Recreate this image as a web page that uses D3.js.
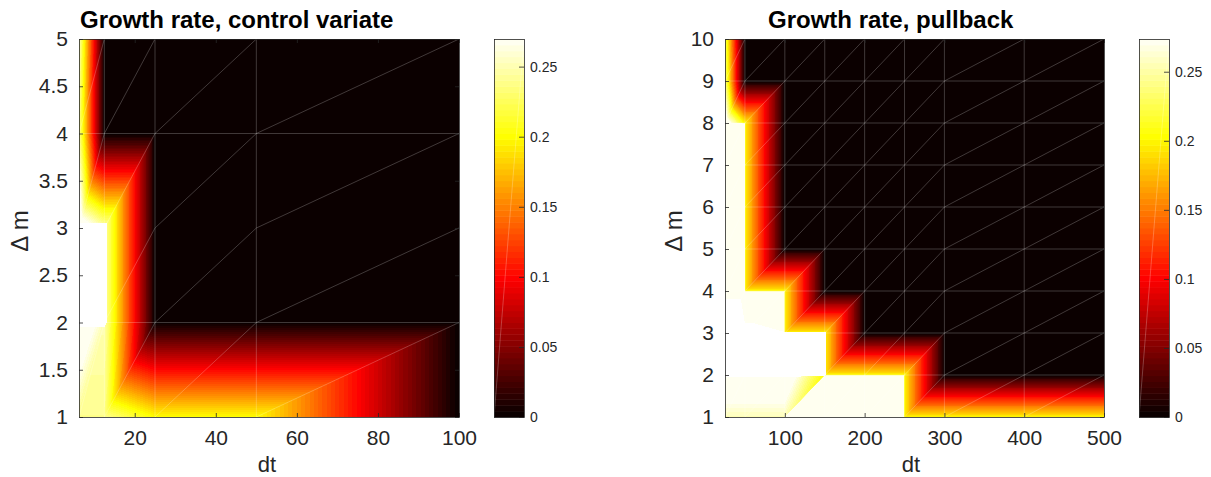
<!DOCTYPE html>
<html>
<head>
<meta charset="utf-8">
<script src="https://cdn.jsdelivr.net/npm/d3@7"></script>
<style>
  body { margin: 0; background: #fff; }
  svg text { font-family: "Liberation Sans", Arial, Helvetica, sans-serif; fill: #262626; }
</style>
</head>
<body>
<div id="chart"></div>
<script>
// ---------- left panel: control variate ----------
const cvTitle = "Growth rate, control variate";
const cvDt = [6.25, 12.5, 25, 50, 100];
const cvDm = [1, 2, 3, 4, 5];
// growth rate at the grid nodes: one row per Δm (bottom first), one column per dt
const cvRate = [
  [0.24, 0.24, 0.2, 0.2, 0],
  [0.3, 0.25, 0, 0, 0],
  [0.3, 0.25, 0, 0, 0],
  [0.24, 0, 0, 0, 0],
  [0.25, 0, 0, 0, 0],
];
// surface height relative to the z limit; above 1 the surface is cut away (blank)
const cvCut = [
  [0, 0, 0, 0, 0],
  [1.05, 1.05, 0, 0, 0],
  [1.05, 1.05, 0, 0, 0],
  [0, 0, 0, 0, 0],
  [0, 0, 0, 0, 0],
];
const cvHiddenRows = [3]; // no seam drawn along this Δm
const cvXTicks = [20, 40, 60, 80, 100];
const cvYTicks = [1, 1.5, 2, 2.5, 3, 3.5, 4, 4.5, 5];
const cvCmax = 0.2697;

// ---------- right panel: pullback ----------
const pbTitle = "Growth rate, pullback";
const pbDt = [25, 50, 100, 150, 200, 250, 300, 400, 500];
const pbDm = [1, 2, 3, 4, 5, 6, 7, 8, 9, 10];
const pbRate = [
  [0.255, 0.255, 0.255, 5, 5, 0.2, 0.2, 0.2, 0.2],
  [0.3, 0.3, 0.3, 0.2, 0.2, 0.2, 0, 0, 0],
  [5, 5, 0.2, 0.2, 0, 0, 0, 0, 0],
  [5, 0.2, 0.2, 0, 0, 0, 0, 0, 0],
  [5, 0.2, 0, 0, 0, 0, 0, 0, 0],
  [5, 0.2, 0, 0, 0, 0, 0, 0, 0],
  [5, 0.2, 0, 0, 0, 0, 0, 0, 0],
  [0.3, 0.2, 0, 0, 0, 0, 0, 0, 0],
  [0.24, 0, 0, 0, 0, 0, 0, 0, 0],
  [0.23, 0, 0, 0, 0, 0, 0, 0, 0],
];
const pbCut = [
  [0, 0, 0, 0, 0, 0, 0, 0, 0],
  [1.05, 1.05, 1.05, 1.02, 0, 0, 0, 0, 0],
  [5, 1.3, 1.02, 1.02, 0, 0, 0, 0, 0],
  [0, 0, 0, 0, 0, 0, 0, 0, 0],
  [0, 0, 0, 0, 0, 0, 0, 0, 0],
  [0, 0, 0, 0, 0, 0, 0, 0, 0],
  [0, 0, 0, 0, 0, 0, 0, 0, 0],
  [0, 0, 0, 0, 0, 0, 0, 0, 0],
  [0, 0, 0, 0, 0, 0, 0, 0, 0],
  [0, 0, 0, 0, 0, 0, 0, 0, 0],
];
const pbHiddenRows = [];
const pbXTicks = [100, 200, 300, 400, 500];
const pbYTicks = [1, 2, 3, 4, 5, 6, 7, 8, 9, 10];
const pbCmax = 0.2737;

const cbTicks = [0, 0.05, 0.1, 0.15, 0.2, 0.25];

const W = 1211, H = 477;
const NCOL = 64;

// matlab hot(64), row k = 1..64
function hot(k) {
  const r = k <= 24 ? k / 24 : 1;
  const g = k <= 24 ? 0 : k <= 48 ? (k - 24) / 24 : 1;
  const b = k <= 48 ? 0 : (k - 48) / 17;
  return [Math.round(r * 255), Math.round(g * 255), Math.round(b * 255)];
}
const hotRows = d3.range(1, NCOL + 1).map(hot);

function colorIndex(v, cmax) {
  return Math.max(1, Math.min(NCOL, Math.floor((v / cmax) * NCOL) + 1));
}

// linear interpolation on the triangle split (lower-left to upper-right diagonal)
function nodeValue(grid, i, j, s, t) {
  const v00 = grid[j][i], v10 = grid[j][i + 1], v01 = grid[j + 1][i], v11 = grid[j + 1][i + 1];
  return t <= s
    ? v00 * (1 - s) + v10 * (s - t) + v11 * t
    : v00 * (1 - t) + v01 * (t - s) + v11 * s;
}

const svg = d3.select("#chart").append("svg").attr("width", W).attr("height", H);

function drawPanel(p) {
  const x = d3.scaleLinear().domain([p.dt[0], p.dt[p.dt.length - 1]]).range([p.left, p.left + p.width]);
  const y = d3.scaleLinear().domain([p.dm[0], p.dm[p.dm.length - 1]]).range([p.top + p.height, p.top]);

  // surface raster
  const canvas = document.createElement("canvas");
  canvas.width = p.width;
  canvas.height = p.height;
  const ctx = canvas.getContext("2d");
  const img = ctx.createImageData(p.width, p.height);
  const nx = p.dt.length, ny = p.dm.length;
  for (let py = 0; py < p.height; py++) {
    const dm = y.invert(p.top + py + 0.5);
    const j = Math.max(0, Math.min(ny - 2, d3.bisectRight(p.dm, dm) - 1));
    const t = (dm - p.dm[j]) / (p.dm[j + 1] - p.dm[j]);
    for (let px = 0; px < p.width; px++) {
      const dt = x.invert(p.left + px + 0.5);
      const i = Math.max(0, Math.min(nx - 2, d3.bisectRight(p.dt, dt) - 1));
      const s = (dt - p.dt[i]) / (p.dt[i + 1] - p.dt[i]);
      const o = (py * p.width + px) * 4;
      let c;
      if (nodeValue(p.cut, i, j, s, t) > 1) c = [255, 255, 255];
      else c = hotRows[colorIndex(nodeValue(p.rate, i, j, s, t), p.cmax) - 1];
      img.data[o] = c[0];
      img.data[o + 1] = c[1];
      img.data[o + 2] = c[2];
      img.data[o + 3] = 255;
    }
  }
  ctx.putImageData(img, 0, 0);

  const g = svg.append("g");
  g.append("image")
    .attr("x", p.left)
    .attr("y", p.top)
    .attr("width", p.width)
    .attr("height", p.height)
    .attr("preserveAspectRatio", "none")
    .style("image-rendering", "pixelated")
    .attr("href", canvas.toDataURL());

  // faint seams along the triangle edges
  const seams = g.append("g")
    .attr("stroke", "#fff")
    .attr("stroke-opacity", 0.28)
    .attr("stroke-width", 0.8)
    .attr("fill", "none");
  p.dt.slice(1, -1).forEach((d) => {
    seams.append("line").attr("x1", x(d)).attr("x2", x(d)).attr("y1", y.range()[0]).attr("y2", y.range()[1]);
  });
  p.dm.slice(1, -1).filter((d) => !p.hidden.includes(d)).forEach((d) => {
    seams.append("line").attr("y1", y(d)).attr("y2", y(d)).attr("x1", x.range()[0]).attr("x2", x.range()[1]);
  });
  for (let j = 0; j < ny - 1; j++) {
    for (let i = 0; i < nx - 1; i++) {
      seams.append("line")
        .attr("x1", x(p.dt[i])).attr("y1", y(p.dm[j]))
        .attr("x2", x(p.dt[i + 1])).attr("y2", y(p.dm[j + 1]));
    }
  }

  // axes (box with inward ticks)
  const fmt = (d) => String(d);
  const axes = [
    [d3.axisBottom(x).tickValues(p.xTicks).tickFormat(fmt).tickPadding(13), `translate(0,${p.top + p.height})`],
    [d3.axisTop(x).tickValues(p.xTicks).tickFormat(""), `translate(0,${p.top})`],
    [d3.axisLeft(y).tickValues(p.yTicks).tickFormat(fmt).tickPadding(11), `translate(${p.left},0)`],
    [d3.axisRight(y).tickValues(p.yTicks).tickFormat(""), `translate(${p.left + p.width},0)`],
  ];
  axes.forEach(([ax, tr]) => {
    const a = g.append("g").attr("transform", tr).call(ax.tickSizeInner(-4).tickSizeOuter(0));
    a.attr("font-family", null).attr("font-size", null);
    a.selectAll("path, line").attr("stroke", "#262626").attr("stroke-width", 0.8);
    a.selectAll("text").style("font-size", "21px");
  });

  // colorbar
  const cb = d3.scaleLinear().domain([0, p.cmax]).range([p.top + p.height, p.top]);
  g.append("g")
    .selectAll("rect")
    .data(hotRows)
    .join("rect")
    .attr("x", p.cbLeft)
    .attr("width", p.cbWidth)
    .attr("y", (d, k) => cb(((k + 1) / NCOL) * p.cmax))
    .attr("height", (d, k) => cb((k / NCOL) * p.cmax) - cb(((k + 1) / NCOL) * p.cmax) + 0.5)
    .attr("fill", (d) => `rgb(${d[0]},${d[1]},${d[2]})`);
  g.append("line")
    .attr("x1", p.cbLeft).attr("y1", cb(0))
    .attr("x2", p.cbLeft + p.cbWidth).attr("y2", cb(p.cmax))
    .attr("stroke", "#fff").attr("stroke-opacity", 0.3).attr("stroke-width", 0.8);
  g.append("rect")
    .attr("x", p.cbLeft + 0.5).attr("y", p.top + 0.5)
    .attr("width", p.cbWidth).attr("height", p.height)
    .attr("fill", "none").attr("stroke", "#262626").attr("stroke-width", 0.8);
  const cbAxis = g.append("g")
    .attr("transform", `translate(${p.cbLeft + p.cbWidth},0)`)
    .call(d3.axisRight(cb).tickValues(cbTicks).tickFormat(fmt).tickSizeInner(-5).tickSizeOuter(0).tickPadding(6));
  cbAxis.attr("font-family", null).attr("font-size", null);
  cbAxis.select(".domain").remove();
  cbAxis.selectAll("line").attr("stroke", "#262626").attr("stroke-width", 0.8);
  cbAxis.selectAll("text").style("font-size", "14px");

  // labels
  g.append("text")
    .attr("x", p.titleX).attr("y", 28)
    .style("font-size", "24px").style("font-weight", "bold").style("fill", "#000")
    .text(p.title);
  g.append("text")
    .attr("x", p.xLabelX).attr("y", 472)
    .attr("text-anchor", "middle")
    .style("font-size", "22px")
    .text("dt");
  g.append("text")
    .attr("transform", `translate(${p.yLabelX},231) rotate(-90)`)
    .attr("text-anchor", "middle")
    .style("font-size", "24px")
    .text("\u0394 m");
}

drawPanel({
  title: cvTitle, dt: cvDt, dm: cvDm, rate: cvRate, cut: cvCut, hidden: cvHiddenRows,
  xTicks: cvXTicks, yTicks: cvYTicks, cmax: cvCmax,
  left: 79, top: 39, width: 380, height: 378,
  cbLeft: 494, cbWidth: 30,
  titleX: 80, xLabelX: 267, yLabelX: 28,
});

drawPanel({
  title: pbTitle, dt: pbDt, dm: pbDm, rate: pbRate, cut: pbCut, hidden: pbHiddenRows,
  xTicks: pbXTicks, yTicks: pbYTicks, cmax: pbCmax,
  left: 725, top: 39, width: 379, height: 378,
  cbLeft: 1139, cbWidth: 30,
  titleX: 768, xLabelX: 911, yLabelX: 682,
});
</script>
</body>
</html>
